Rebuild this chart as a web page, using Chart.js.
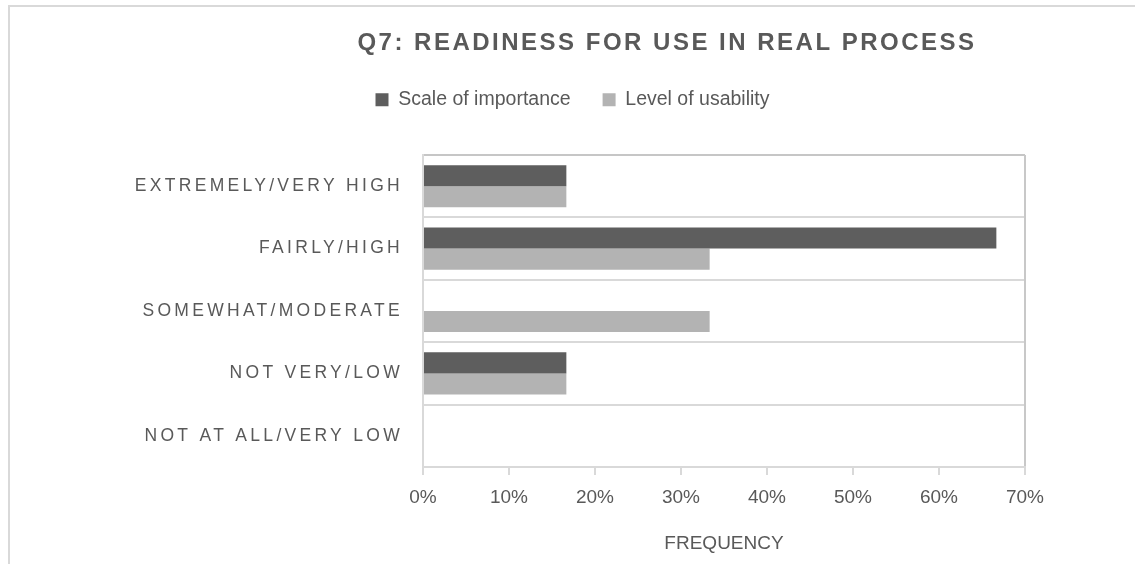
<!DOCTYPE html>
<html>
<head>
<meta charset="utf-8">
<script src="https://cdn.jsdelivr.net/npm/chart.js@4/dist/chart.umd.min.js"></script>
<style>
  html, body { margin: 0; padding: 0; background: #fff; }
  #frame { position: absolute; left: 8px; top: 5px; right: 0; bottom: 0; border-top: 2px solid #d9d9d9; border-left: 2px solid #d9d9d9; }
  #chart { position: absolute; left: 0; top: 0; }
</style>
</head>
<body>
<div id="frame"></div>
<canvas id="chart" width="1135" height="564"></canvas>
<script>
var categories = ['EXTREMELY/VERY HIGH', 'FAIRLY/HIGH', 'SOMEWHAT/MODERATE', 'NOT VERY/LOW', 'NOT AT ALL/VERY LOW'];
var scaleOfImportance = [16.67, 66.67, 0, 16.67, 0];
var levelOfUsability = [16.67, 33.33, 33.33, 16.67, 0];
var xTickMax = 70;
var xTickStep = 10;

var fontFam = "'Liberation Sans', Arial, sans-serif";
var grey = '#595959';

// category axis whose labels are drawn letter-spaced, like the original
class SpacedCategoryScale extends Chart.CategoryScale {
    drawLabels(area) {
        var c = this.ctx;
        c.save();
        c.letterSpacing = '3.3px';
        super.drawLabels(area);
        c.restore();
    }
}
SpacedCategoryScale.id = 'spacedCategory';
SpacedCategoryScale.defaults = Chart.CategoryScale.defaults;
Chart.register(SpacedCategoryScale);

var legendGap = 35.5;
var titleShift = 94.5;

var excelLayout = {
    id: 'excelLayout',
    beforeLayout: function (chart) {
        var lg = chart.legend;
        if (lg && !lg._gapAdded) {
            var fit = lg.fit;
            lg.fit = function () { fit.call(this); this.height += legendGap; };
            lg._gapAdded = true;
        }
    },
    beforeDraw: function (chart) {
        var tb = chart.titleBlock;
        if (tb && !tb._spaced) {
            var draw = tb.draw;
            tb.draw = function () {
                var c = this.ctx;
                c.save();
                c.letterSpacing = '2.5px';
                c.translate(titleShift, 0);
                draw.call(this);
                c.restore();
            };
            tb._spaced = true;
        }
    }
};

var ctx = document.getElementById('chart').getContext('2d');
var chart = new Chart(ctx, {
    type: 'bar',
    data: {
        labels: categories,
        datasets: [
            {
                label: 'Scale of importance',
                backgroundColor: '#5e5e5e',
                data: scaleOfImportance,
                categoryPercentage: 0.675,
                barPercentage: 1
            },
            {
                label: 'Level of usability',
                backgroundColor: '#b3b3b3',
                data: levelOfUsability,
                categoryPercentage: 0.675,
                barPercentage: 1
            }
        ]
    },
    options: {
        indexAxis: 'y',
        responsive: false,
        animation: false,
        layout: { padding: { left: 120, right: 110, top: 0, bottom: 0 } },
        plugins: {
            tooltip: { enabled: false },
            title: {
                display: true,
                text: 'Q7: READINESS FOR USE IN REAL PROCESS',
                color: grey,
                font: { family: fontFam, size: 24, weight: 'bold', lineHeight: 1 },
                padding: { top: 31, bottom: 3 }
            },
            legend: {
                display: true,
                position: 'top',
                labels: {
                    color: grey,
                    font: { family: fontFam, size: 19.5 },
                    boxWidth: 13,
                    boxHeight: 13,
                    padding: 32
                }
            }
        },
        scales: {
            y: {
                type: 'spacedCategory',
                offset: true,
                afterFit: function (s) { s.width = 303; },
                ticks: { color: grey, font: { family: fontFam, size: 17.5 }, padding: 20 },
                grid: {
                    offset: true,
                    drawTicks: false,
                    lineWidth: 2,
                    color: function (c) { return c.index === 0 ? '#c6c6c6' : '#d9d9d9'; }
                },
                border: { color: '#d9d9d9', width: 2 }
            },
            x: {
                type: 'linear',
                min: 0,
                max: xTickMax,
                afterFit: function (s) { s.height = 97; },
                ticks: {
                    stepSize: xTickStep,
                    color: grey,
                    font: { family: fontFam, size: 19 },
                    padding: 11,
                    callback: function (v) { return v + '%'; }
                },
                grid: {
                    lineWidth: 2,
                    tickLength: 8,
                    tickColor: '#d9d9d9',
                    color: function (c) { return c.tick && c.tick.value === xTickMax ? '#c8c8c8' : 'rgba(0,0,0,0)'; }
                },
                border: { color: '#d9d9d9', width: 2 },
                title: {
                    display: true,
                    text: 'FREQUENCY',
                    color: grey,
                    font: { family: fontFam, size: 19 },
                    padding: { top: 0, bottom: 9 }
                }
            }
        }
    },
    plugins: [excelLayout]
});
</script>
</body>
</html>
